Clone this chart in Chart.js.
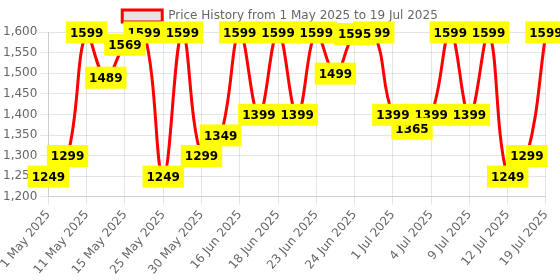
<!DOCTYPE html>
<html>
<head>
<meta charset="utf-8">
<script src="https://cdn.jsdelivr.net/npm/chart.js@4"></script>
<style>
  html, body { margin: 0; padding: 0; background: #fff; }
  #wrap { width: 560px; height: 280px; }
</style>
</head>
<body>
<div id="wrap"><canvas id="priceChart"></canvas></div>
<script>
// Chart data
const dates = [
    '1 May 2025', '5 May 2025', '11 May 2025', '13 May 2025', '15 May 2025', '20 May 2025',
    '25 May 2025', '28 May 2025', '30 May 2025', '10 Jun 2025', '16 Jun 2025', '17 Jun 2025',
    '18 Jun 2025', '20 Jun 2025', '23 Jun 2025', '23 Jun 2025', '24 Jun 2025', '28 Jun 2025',
    '1 Jul 2025', '3 Jul 2025', '4 Jul 2025', '6 Jul 2025', '9 Jul 2025', '11 Jul 2025',
    '12 Jul 2025', '15 Jul 2025', '19 Jul 2025'
];
const prices = [
    1249, 1299, 1599, 1489, 1569, 1599,
    1249, 1599, 1299, 1349, 1599, 1399,
    1599, 1399, 1599, 1499, 1595, 1599,
    1399, 1365, 1399, 1599, 1399, 1599,
    1249, 1299, 1599
];
const seriesLabel = 'Price History from 1 May 2025 to 19 Jul 2025';

Chart.defaults.font.family = "'DejaVu Sans', sans-serif";

// yellow value boxes, drawn last-to-first so earlier ones sit on top
const valueBoxes = {
    id: 'valueBoxes',
    afterDatasetsDraw(chart) {
        const ctx = chart.ctx;
        const meta = chart.getDatasetMeta(0);
        const values = chart.data.datasets[0].data;
        ctx.save();
        ctx.font = 'bold 12px "DejaVu Sans"';
        ctx.textAlign = 'center';
        ctx.textBaseline = 'middle';
        for (let i = meta.data.length - 1; i >= 0; i--) {
            const pt = meta.data[i];
            const text = String(values[i]);
            const w = ctx.measureText(text).width + 8;
            const h = 22;
            ctx.fillStyle = '#ffff00';
            ctx.fillRect(pt.x - w / 2, pt.y - h / 2, w, h);
            ctx.fillStyle = '#000';
            ctx.fillText(text, pt.x, pt.y + 1);
        }
        ctx.restore();
    }
};

const priceCtx = document.getElementById('priceChart').getContext('2d');
new Chart(priceCtx, {
    type: 'line',
    data: {
        labels: dates,
        datasets: [{
            label: seriesLabel,
            data: prices,
            borderColor: 'red',
            borderWidth: 3,
            tension: 0.4,
            pointRadius: 0
        }]
    },
    options: {
        responsive: true,
        maintainAspectRatio: false,
        animation: false,
        plugins: {
            legend: { display: true },
            tooltip: { enabled: false }
        },
        scales: {
            y: {
                min: 1200,
                max: 1600,
                ticks: { stepSize: 50 }
            }
        }
    },
    plugins: [valueBoxes]
});
</script>
</body>
</html>
